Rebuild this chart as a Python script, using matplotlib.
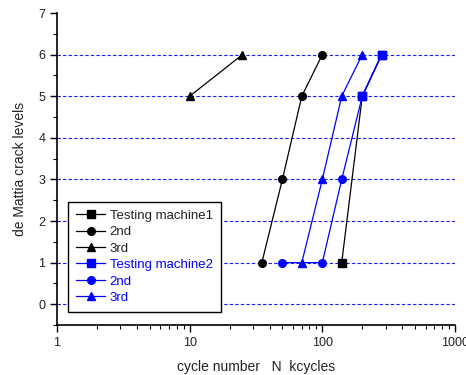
import matplotlib
matplotlib.use("Agg")
import matplotlib.pyplot as plt
from matplotlib.ticker import LogLocator, FixedLocator, MultipleLocator, NullFormatter

plt.rcParams['font.family'] = ['Liberation Sans', 'DejaVu Sans']

# data
m1_x = [140, 200, 280]; m1_y = [1, 5, 6]
m1_2nd_x = [35, 50, 70, 100]; m1_2nd_y = [1, 3, 5, 6]
m1_3rd_x = [10, 25]; m1_3rd_y = [5, 6]
m2_x = [200, 280]; m2_y = [5, 6]
m2_2nd_x = [50, 100, 140, 200, 280]; m2_2nd_y = [1, 1, 3, 5, 6]
m2_3rd_x = [70, 100, 140, 200]; m2_3rd_y = [1, 3, 5, 6]
grid_levels = [0, 1, 2, 3, 4, 5, 6]
x_ticks = [1, 10, 100, 1000]
x_ticklabels = ["1", "10", "100", "1000"]

fig = plt.figure(figsize=(4.66, 3.75), dpi=100)
ax = fig.add_axes([57/466, 1-325/375, 398/466, 312/375])

for g in grid_levels:
    ax.axhline(g, color='#1a1aff', ls=(0, (3, 2)), lw=0.8, zorder=1)

ms = 5.5
ax.plot(m1_x, m1_y, 's-', color='black', lw=0.9, ms=ms, label='Testing machine1', zorder=3)
ax.plot(m1_2nd_x, m1_2nd_y, 'o-', color='black', lw=0.9, ms=ms, label='2nd', zorder=3)
ax.plot(m1_3rd_x, m1_3rd_y, '^-', color='black', lw=0.9, ms=ms+0.5, label='3rd', zorder=3)
ax.plot(m2_x, m2_y, 's-', color='blue', lw=0.9, ms=ms, label='Testing machine2', zorder=4)
ax.plot(m2_2nd_x, m2_2nd_y, 'o-', color='blue', lw=0.9, ms=ms, label='2nd', zorder=3)
ax.plot(m2_3rd_x, m2_3rd_y, '^-', color='blue', lw=0.9, ms=ms+0.5, label='3rd', zorder=3)

ax.set_xscale('log')
ax.set_xlim(1, 1000)
ax.set_ylim(-0.5, 7)
ax.xaxis.set_major_locator(FixedLocator(x_ticks))
ax.set_xticklabels(x_ticklabels)
ax.xaxis.set_minor_locator(LogLocator(base=10, subs=range(2, 10)))
ax.xaxis.set_minor_formatter(NullFormatter())
ax.yaxis.set_major_locator(MultipleLocator(1))
ax.yaxis.set_minor_locator(MultipleLocator(0.5))
ax.tick_params(which='major', direction='out', length=5, width=1, labelsize=9, colors='black', labelcolor='#222222')
ax.tick_params(which='minor', direction='out', length=3, width=0.8)
ax.spines['top'].set_visible(False)
ax.spines['right'].set_visible(False)
ax.spines['left'].set_linewidth(1.2)
ax.spines['bottom'].set_linewidth(1.2)

ax.set_xlabel('cycle number   N  kcycles', fontsize=10, color='#222222', labelpad=8)
ax.set_ylabel('de Mattia crack levels', fontsize=10, color='#222222', labelpad=8)

leg = ax.legend(loc='lower left', bbox_to_anchor=(0.028, 0.042), borderaxespad=0,
                fancybox=False, edgecolor='black', framealpha=1, fontsize=9.5,
                handlelength=2.2, handletextpad=0.35, labelspacing=0.32, borderpad=0.6)
leg.get_frame().set_linewidth(1.0)
for t, c in zip(leg.get_texts(), ['#222222'] * 3 + ['blue'] * 3):
    t.set_color(c)

fig.savefig('out.png', dpi=100)
